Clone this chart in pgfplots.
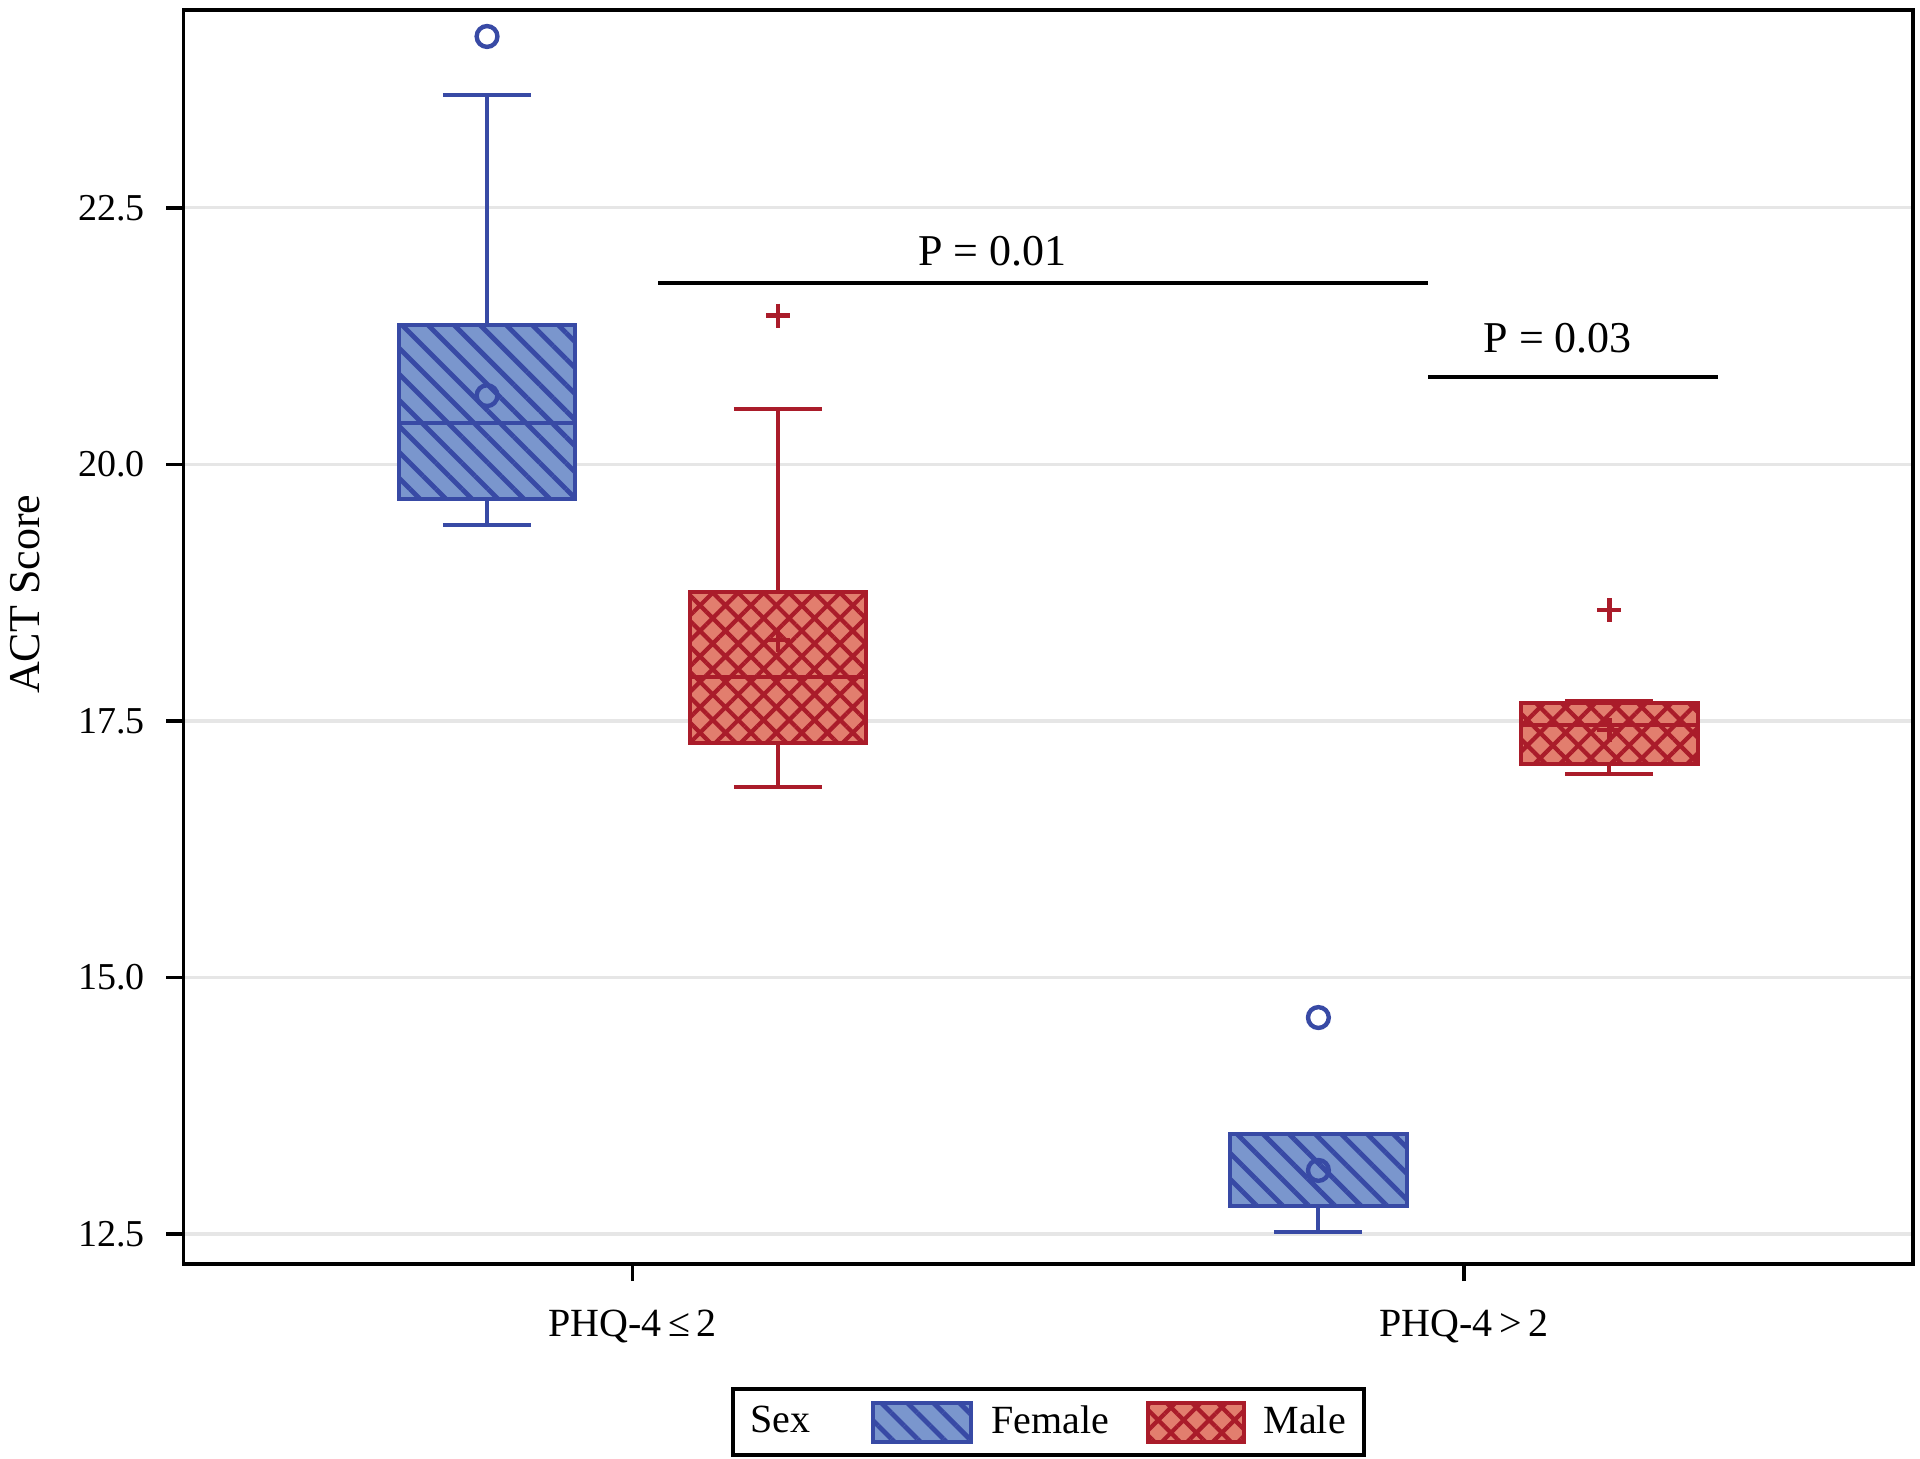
\documentclass[border=0pt]{standalone}
\usepackage{fontspec}
\setmainfont{Liberation Serif}
\usepackage{pgfplots}
\pgfplotsset{compat=1.18}
\usepgfplotslibrary{statistics}
\usetikzlibrary{patterns.meta}
\definecolor{fblue}{RGB}{56,74,165}
\definecolor{ffill}{RGB}{122,150,205}
\definecolor{mred}{RGB}{170,28,42}
\definecolor{mfill}{RGB}{226,126,110}
\definecolor{gridc}{RGB}{230,230,230}
\tikzset{
  fbox/.style={draw=fblue, line width=1pt, fill=ffill, postaction={pattern={Lines[angle=-45,distance=4.6pt,line width=1.2pt]}, pattern color=fblue}},
  mbox/.style={draw=mred, line width=1pt, fill=mfill, postaction={pattern={Hatch[angle=45,distance=4.5pt,line width=1.05pt]}, pattern color=mred}},
}
\begin{document}
\begin{tikzpicture}
\begin{axis}[
  scale only axis, width=432.3pt, height=313.5pt,
  xmin=-0.54, xmax=1.54, ymin=12.21, ymax=24.43,
  xtick={0,1}, xticklabels={PHQ-4\,≤\,2, PHQ-4\,>\,2},
  ytick={12.5,15,17.5,20,22.5},
  /pgf/number format/assume math mode=true,
  yticklabel style={font=\fontsize{9.5}{11}\selectfont, xshift=-1.9pt, /pgf/number format/.cd, fixed, fixed zerofill, precision=1},
  xticklabel style={font=\fontsize{10}{12}\selectfont, yshift=-3.7pt},
  tick pos=left, tick align=outside, major tick length=4.3pt,
  tick style={black, line width=0.9pt},
  axis line style={black, line width=0.9pt},
  ymajorgrids, major grid style={gridc, line width=0.8pt},
  ylabel={ACT Score},
  ylabel style={at={(axis description cs:-0.0914,0.534)}, anchor=center, font=\fontsize{11}{13}\selectfont},
  legend columns=3, legend cell align=left,
  legend style={at={(0.5,-0.0986)}, anchor=north, draw=black, line width=1pt, font=\fontsize{10}{12}\selectfont, inner xsep=2.5pt, inner ysep=2pt,
    /tikz/column 2/.append style={column sep=13.2pt}, /tikz/column 4/.append style={column sep=7.1pt}},
  boxplot/draw direction=y,
]
% Female, PHQ-4 <= 2
\addplot[forget plot, draw=fblue, line width=1pt, mark=o, mark size=2.6pt, mark options={line width=1.1pt},
  boxplot prepared={draw position=-0.175, lower whisker=19.41, lower quartile=19.66, median=20.40, upper quartile=21.36, upper whisker=23.60, box extend=0.2125, whisker extend=0.106, every box/.style={/tikz/fbox}}]
  table[row sep=\\, y index=0] {y\\ 24.17\\};
% Male, PHQ-4 <= 2
\addplot[forget plot, draw=mred, line width=1pt, mark=+, mark size=3pt, mark options={line width=1.1pt},
  boxplot prepared={draw position=0.175, lower whisker=16.86, lower quartile=17.29, median=17.925, upper quartile=18.757, upper whisker=20.54, box extend=0.2125, whisker extend=0.106, every box/.style={/tikz/mbox}}]
  table[row sep=\\, y index=0] {y\\ 21.45\\};
% Female, PHQ-4 > 2
\addplot[forget plot, draw=fblue, line width=1pt, mark=o, mark size=2.6pt, mark options={line width=1.1pt},
  boxplot prepared={draw position=0.825, lower whisker=12.525, lower quartile=12.77, median=12.77, upper quartile=13.475, upper whisker=13.475, box extend=0.2125, whisker extend=0.106, every box/.style={/tikz/fbox}}]
  table[row sep=\\, y index=0] {y\\ 14.61\\};
% Male, PHQ-4 > 2
\addplot[forget plot, draw=mred, line width=1pt, mark=+, mark size=3pt, mark options={line width=1.1pt},
  boxplot prepared={draw position=1.175, lower whisker=16.98, lower quartile=17.08, median=17.46, upper quartile=17.675, upper whisker=17.69, box extend=0.2125, whisker extend=0.106, every box/.style={/tikz/mbox}}]
  table[row sep=\\, y index=0] {y\\ 18.58\\};
% means
\addplot[forget plot, only marks, draw=fblue, mark=o, mark size=2.6pt, mark options={line width=1.1pt}]
  coordinates {(-0.175,20.67) (0.825,13.12)};
\addplot[forget plot, only marks, draw=mred, mark=+, mark size=3pt, mark options={line width=1.1pt}]
  coordinates {(0.175,18.29) (1.175,17.41)};
% significance bars
\addplot[forget plot, black, line width=1pt] coordinates {(0.031,21.77) (0.957,21.77)};
\addplot[forget plot, black, line width=1pt] coordinates {(0.957,20.85) (1.306,20.85)};
\node[font=\fontsize{11}{13}\selectfont] at (axis cs:0.433,22.08) {P = 0.01};
\node[font=\fontsize{11}{13}\selectfont] at (axis cs:1.113,21.23) {P = 0.03};
% legend
\addlegendimage{empty legend}
\addlegendentry{Sex}
\addlegendimage{legend image code/.code={\draw[fbox] (0pt,-4.9pt) rectangle (24.5pt,4.9pt); \path (27pt,0pt);}}
\addlegendentry{Female}
\addlegendimage{legend image code/.code={\draw[mbox] (0pt,-4.9pt) rectangle (24pt,4.9pt); \path (26.5pt,0pt);}}
\addlegendentry{Male}
\end{axis}
\pgfresetboundingbox
\path[use as bounding box] ([xshift=-45.9pt,yshift=-48.6pt]current axis.south west) rectangle ([xshift=1.8pt,yshift=2.45pt]current axis.north east);
\end{tikzpicture}
\end{document}
